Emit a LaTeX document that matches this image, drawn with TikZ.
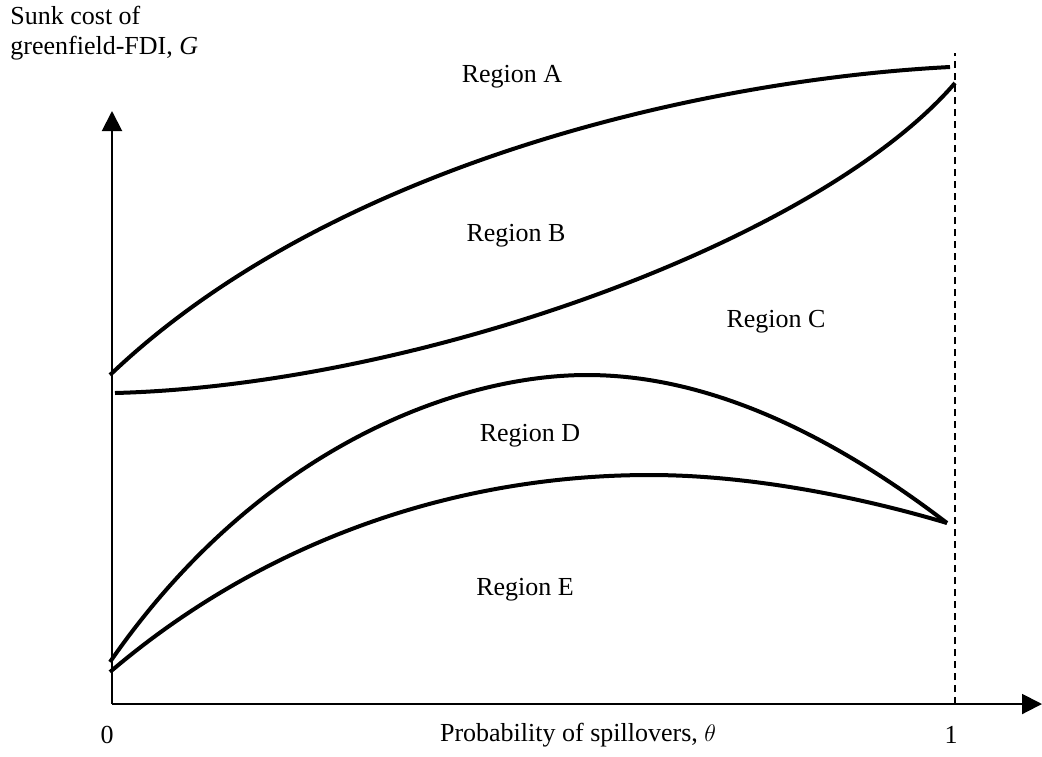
\documentclass[tikz,border=0pt]{standalone}
\usepackage{fontspec}
\setmainfont{Liberation Serif}
\usetikzlibrary{arrows.meta}

\begin{document}
\begin{tikzpicture}[x=0.5pt,y=-0.5pt,
  axis/.style={line width=1pt,-{Triangle[length=10pt,width=10pt]}},
  bound/.style={line width=2pt},
  guide/.style={line width=1pt,dash pattern=on 3.5pt off 2.5pt},
  lbl/.style={font=\fontsize{13}{15}\selectfont,inner sep=0pt}
]
\useasboundingbox (0,0) rectangle (1042,756);
% axes
\coordinate (o) at (112,704);
\coordinate (ytop) at (112,111);
\coordinate (xend) at (1042,704);
\draw[axis] (o) -- (ytop);
\draw[axis] (o) -- (xend);
\coordinate (one) at (955,704);
\coordinate (onetop) at (955,53);
\draw[guide] (one) -- (onetop);
% boundaries between regions
\draw[bound] (110,375) .. controls (330,165) and (700,80) .. (950,67);
\draw[bound] (115,393) .. controls (420,385) and (820,240) .. (955,83);
\draw[bound] (110,662) .. controls (260,445) and (460,375) .. (587,375)
  .. controls (700,375) and (820,426) .. (947,523);
\draw[bound] (110,672) .. controls (260,544) and (450,475) .. (650,475)
  .. controls (750,475) and (860,497) .. (947,523);
% labels
\node[lbl,anchor=north west,align=left] (ylab) at (10,6)
  {Sunk cost of\\greenfield-FDI, \textit{G}};
\node[lbl] (zero) at (107,735) {0};
\node[lbl] (unit) at (951,735) {1};
\node[lbl] (xlab) at (578,735) {Probability of spillovers, $\theta$};
\node[lbl] (ra) at (512,77) {Region A};
\node[lbl] (rb) at (516,236) {Region B};
\node[lbl] (rc) at (776,322) {Region C};
\node[lbl] (rd) at (530,436) {Region D};
\node[lbl] (re) at (525,590) {Region E};
\end{tikzpicture}
\end{document}
